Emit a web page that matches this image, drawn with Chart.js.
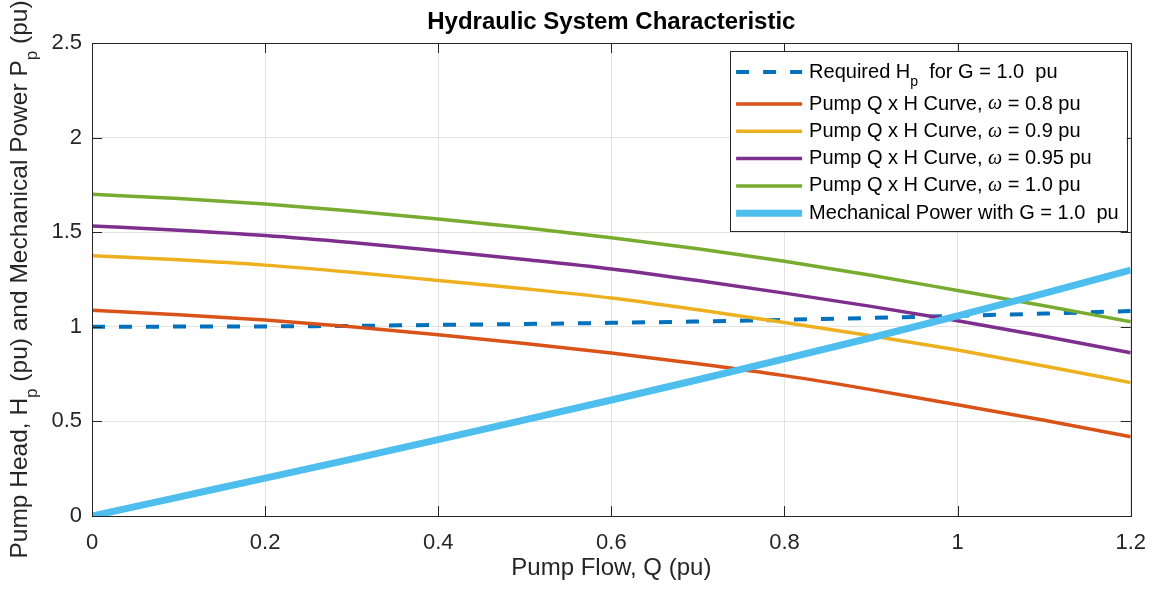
<!DOCTYPE html>
<html lang="en">
<head>
<meta charset="UTF-8">
<title>Hydraulic System Characteristic</title>
<script src="https://cdn.jsdelivr.net/npm/chart.js"></script>
<style>
    html, body { margin: 0; padding: 0; background: #fff; }
    canvas { display: block; }
</style>
</head>
<body>
<canvas id="chartCanvas" width="1160" height="592"></canvas>
<script>
// values
var flowQ = [0, 0.1, 0.2, 0.3, 0.4, 0.5, 0.6, 0.7, 0.8, 0.9, 1.0, 1.1, 1.2];
var requiredHead = [1.000, 1.001, 1.002, 1.005, 1.010, 1.015, 1.021, 1.028, 1.037, 1.047, 1.058, 1.070, 1.083];
var headW080 = [1.087, 1.064, 1.036, 1.000, 0.958, 0.912, 0.862, 0.805, 0.742, 0.668, 0.588, 0.506, 0.419];
var headW090 = [1.376, 1.354, 1.326, 1.288, 1.245, 1.201, 1.152, 1.090, 1.023, 0.953, 0.877, 0.793, 0.705];
var headW095 = [1.533, 1.510, 1.482, 1.445, 1.402, 1.356, 1.306, 1.245, 1.178, 1.108, 1.032, 0.950, 0.863];
var headW100 = [1.700, 1.678, 1.649, 1.612, 1.570, 1.523, 1.471, 1.412, 1.346, 1.272, 1.192, 1.111, 1.027];
var mechPower = [0, 0.100, 0.200, 0.301, 0.404, 0.508, 0.613, 0.720, 0.830, 0.942, 1.058, 1.177, 1.300];

var seriesNames = [
    'Required H_p  for G = 1.0  pu',
    'Pump Q x H Curve, ω = 0.8 pu',
    'Pump Q x H Curve, ω = 0.9 pu',
    'Pump Q x H Curve, ω = 0.95 pu',
    'Pump Q x H Curve, ω = 1.0 pu',
    'Mechanical Power with G = 1.0  pu'
];
var chartTitle = 'Hydraulic System Characteristic';
var xTitle = 'Pump Flow, Q (pu)';
var yTitle = 'Pump Head, H_p (pu) and Mechanical Power P_p (pu)';

var xTicks = { min: 0, max: 1.2, step: 0.2 };
var yTicks = { min: 0, max: 2.5, step: 0.5 };

var TXT = '#262626';
var SANS = 'Arial, "Liberation Sans", Helvetica, sans-serif';

function pts(ys) {
    return flowQ.map(function (q, i) { return { x: q, y: ys[i] }; });
}

// tick text like matlab: 1 not 1.0
function tickText(v) {
    return String(Number(v.toFixed(2)));
}

// draws text with _x subscripts and an italic omega
function richParts(text) {
    var parts = [];
    var re = /(_\w|ω)/g, last = 0, m;
    while ((m = re.exec(text)) !== null) {
        if (m.index > last) parts.push({ t: text.slice(last, m.index), k: 'n' });
        if (m[0] === 'ω') parts.push({ t: 'ω', k: 'w' });
        else parts.push({ t: m[0].slice(1), k: 's' });
        last = re.lastIndex;
    }
    if (last < text.length) parts.push({ t: text.slice(last), k: 'n' });
    return parts;
}
function partFont(k, size) {
    if (k === 's') return Math.round(size * 0.7) + 'px ' + SANS;
    if (k === 'w') return 'italic ' + size + 'px "Liberation Serif", "DejaVu Serif", serif';
    return size + 'px ' + SANS;
}
function richWidth(ctx, text, size) {
    var w = 0;
    richParts(text).forEach(function (p) { ctx.font = partFont(p.k, size); w += ctx.measureText(p.t).width; });
    return w;
}
function drawRich(ctx, text, x, y, size) {
    ctx.textBaseline = 'middle';
    ctx.textAlign = 'left';
    richParts(text).forEach(function (p) {
        ctx.font = partFont(p.k, size);
        var dy = p.k === 's' ? size * 0.52 : 0;
        ctx.fillText(p.t, x, y + dy);
        x += ctx.measureText(p.t).width;
    });
}

var matlabAxes = {
    id: 'matlabAxes',
    afterDraw: function (chart) {
        var ctx = chart.ctx, a = chart.chartArea;
        var xs = chart.scales.x, ys = chart.scales.y;
        ctx.save();
        ctx.strokeStyle = TXT;
        ctx.lineWidth = 1;
        ctx.strokeRect(Math.round(a.left) + 0.5, Math.round(a.top) + 0.5,
            Math.round(a.right - a.left), Math.round(a.bottom - a.top));
        ctx.beginPath();
        xs.ticks.forEach(function (t) {
            var px = Math.round(xs.getPixelForValue(t.value)) + 0.5;
            ctx.moveTo(px, a.bottom); ctx.lineTo(px, a.bottom - 10);
            ctx.moveTo(px, a.top); ctx.lineTo(px, a.top + 10);
        });
        ys.ticks.forEach(function (t) {
            var py = Math.round(ys.getPixelForValue(t.value)) + 0.5;
            ctx.moveTo(a.left, py); ctx.lineTo(a.left + 10, py);
            ctx.moveTo(a.right, py); ctx.lineTo(a.right - 10, py);
        });
        ctx.stroke();

        ctx.fillStyle = '#000';
        ctx.font = 'bold 24px ' + SANS;
        ctx.textAlign = 'center';
        ctx.textBaseline = 'middle';
        ctx.fillText(chartTitle, (a.left + a.right) / 2, 22);

        ctx.fillStyle = TXT;
        var wx = richWidth(ctx, xTitle, 24);
        drawRich(ctx, xTitle, (a.left + a.right) / 2 - wx / 2, 568, 24);

        ctx.save();
        ctx.translate(20, (a.top + a.bottom) / 2);
        ctx.rotate(-Math.PI / 2);
        var wy = richWidth(ctx, yTitle, 24.5);
        drawRich(ctx, yTitle, -wy / 2, 0, 24.5);
        ctx.restore();

        // legend box, top right inside the axes
        var ds = chart.data.datasets, fs = 20;
        var maxW = 0;
        ds.forEach(function (d) { maxW = Math.max(maxW, richWidth(ctx, d.label, fs)); });
        var right = a.right - 4, top = a.top + 8;
        var left = right - (maxW + 87);
        var rows = [], cy = top + 21;
        ds.forEach(function (d, i) {
            rows.push(cy);
            cy += 27.3 + (d.label.indexOf('_') >= 0 ? 4.7 : 0);
        });
        var bottom = rows[rows.length - 1] + 18;
        ctx.fillStyle = '#fff';
        ctx.fillRect(left, top, right - left, bottom - top);
        ctx.strokeStyle = TXT;
        ctx.lineWidth = 1;
        ctx.strokeRect(Math.round(left) + 0.5, Math.round(top) + 0.5, Math.round(right - left), Math.round(bottom - top));
        ds.forEach(function (d, i) {
            var y = rows[i];
            ctx.save();
            ctx.strokeStyle = d.borderColor;
            ctx.lineWidth = d.borderWidth;
            ctx.setLineDash(d.borderDash || []);
            ctx.beginPath();
            ctx.moveTo(left + 6, y);
            ctx.lineTo(left + 72, y);
            ctx.stroke();
            ctx.restore();
            ctx.fillStyle = '#000';
            drawRich(ctx, d.label, left + 79, y, fs);
        });
        ctx.restore();
    }
};

var colors = ['#0072BD', '#D95319', '#EDB120', '#7E2F8E', '#77AC30', '#4DBEEE'];
var series = [requiredHead, headW080, headW090, headW095, headW100, mechPower];
var widths = [4, 3.5, 3.5, 3.5, 3.5, 7];

var datasets = series.map(function (s, i) {
    return {
        label: seriesNames[i],
        data: pts(s),
        borderColor: colors[i],
        backgroundColor: colors[i],
        borderWidth: widths[i],
        borderDash: i === 0 ? [13, 14] : [],
        pointRadius: 0,
        fill: false,
        cubicInterpolationMode: 'monotone',
        order: series.length - i
    };
});

new Chart(document.getElementById('chartCanvas').getContext('2d'), {
    type: 'line',
    data: { datasets: datasets },
    options: {
        responsive: false,
        animation: false,
        layout: { padding: { top: 43, right: 29, left: 0, bottom: 0 } },
        plugins: { legend: { display: false }, title: { display: false }, tooltip: { enabled: false } },
        scales: {
            x: {
                type: 'linear',
                min: xTicks.min, max: xTicks.max,
                afterFit: function (s) { s.height = 76; },
                ticks: { stepSize: xTicks.step, padding: 14, color: TXT, font: { size: 22, family: SANS }, maxRotation: 0,
                    callback: function (v) { return tickText(v); } },
                grid: { color: 'rgba(38,38,38,0.13)', drawTicks: false },
                border: { display: false }
            },
            y: {
                type: 'linear',
                min: yTicks.min, max: yTicks.max,
                afterFit: function (s) { s.width = 92; },
                ticks: { stepSize: yTicks.step, padding: 10, color: TXT, font: { size: 22, family: SANS },
                    callback: function (v) { return tickText(v); } },
                grid: { color: 'rgba(38,38,38,0.13)', drawTicks: false },
                border: { display: false }
            }
        }
    },
    plugins: [matlabAxes]
});
</script>
</body>
</html>
